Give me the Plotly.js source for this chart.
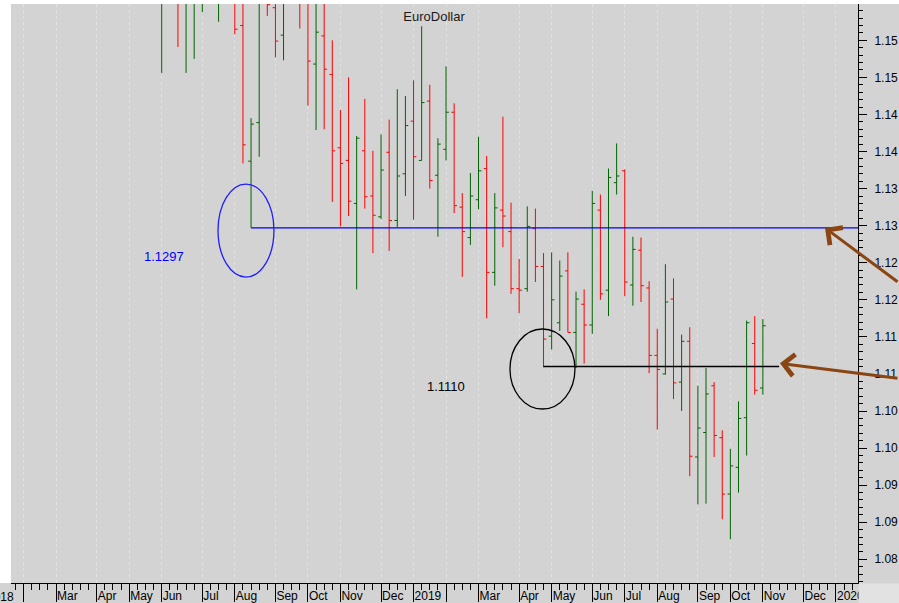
<!DOCTYPE html>
<html>
<head>
<meta charset="utf-8">
<script src="https://cdn.plot.ly/plotly-3.0.1.min.js"></script>
<style>
  html, body { margin: 0; padding: 0; background: #ffffff; overflow: hidden; }
  #chart { width: 899px; height: 603px; }
</style>
</head>
<body>
<div id="chart"></div>
<script>
// Weekly EUR/USD bars, dated by the Friday that ends each week
const barDates = [
  "2018-06-01","2018-06-08","2018-06-15","2018-06-22","2018-06-29",
  "2018-07-06","2018-07-13","2018-07-20","2018-07-27",
  "2018-08-03","2018-08-10","2018-08-17","2018-08-24","2018-08-31",
  "2018-09-07","2018-09-14","2018-09-21","2018-09-28",
  "2018-10-05","2018-10-12","2018-10-19","2018-10-26",
  "2018-11-02","2018-11-09","2018-11-16","2018-11-23","2018-11-30",
  "2018-12-07","2018-12-14","2018-12-21","2018-12-28",
  "2019-01-04","2019-01-11","2019-01-18","2019-01-25",
  "2019-02-01","2019-02-08","2019-02-15","2019-02-22",
  "2019-03-01","2019-03-08","2019-03-15","2019-03-22","2019-03-29",
  "2019-04-05","2019-04-12","2019-04-19","2019-04-26",
  "2019-05-03","2019-05-10","2019-05-17","2019-05-24","2019-05-31",
  "2019-06-07","2019-06-14","2019-06-21","2019-06-28",
  "2019-07-05","2019-07-12","2019-07-19","2019-07-26",
  "2019-08-02","2019-08-09","2019-08-16","2019-08-23","2019-08-30",
  "2019-09-06","2019-09-13","2019-09-20","2019-09-27",
  "2019-10-04","2019-10-11","2019-10-18","2019-10-25",
  "2019-11-01"
];
const openVals = [
  1.1652,1.1658,1.1773,1.1609,1.1655,
  1.1684,1.1747,1.1686,1.1720,
  1.1659,1.1570,1.1387,1.1439,1.1622,
  1.1594,1.1557,1.1623,1.1749,
  1.1603,1.1518,1.1556,1.1504,
  1.1405,1.1388,1.1330,1.1401,1.1340,
  1.1312,1.1399,1.1307,1.1370,
  1.1441,1.1388,1.1468,1.1368,
  1.1403,1.1453,1.1325,1.1284,
  1.1335,1.1377,1.1237,1.1321,1.1292,
  1.1215,1.1215,1.1296,1.1245,
  1.1151,1.1169,1.1239,1.1156,1.1194,
  1.1166,1.1321,1.1213,1.1358,
  1.1374,1.1220,1.1267,1.1216,
  1.1125,1.1100,1.1201,1.1089,1.1144,
  1.0988,1.1021,1.1084,1.1014,
  1.0938,1.0974,1.1041,1.1141,
  1.1081
];
const highVals = [
  1.1718,1.1840,1.1852,1.1675,1.1720,
  1.1750,1.1791,1.1739,1.1750,
  1.1700,1.1610,1.1445,1.1660,1.1734,
  1.1644,1.1720,1.1790,1.1815,
  1.1611,1.1621,1.1621,1.1550,
  1.1456,1.1500,1.1421,1.1471,1.1401,
  1.1423,1.1443,1.1484,1.1475,
  1.1496,1.1569,1.1490,1.1418,
  1.1515,1.1465,1.1344,1.1371,
  1.1420,1.1394,1.1344,1.1447,1.1331,
  1.1255,1.1326,1.1323,1.1263,
  1.1264,1.1253,1.1264,1.1211,1.1214,
  1.1347,1.1342,1.1377,1.1411,
  1.1376,1.1285,1.1284,1.1225,
  1.1161,1.1248,1.1229,1.1153,1.1163,
  1.1084,1.1108,1.1089,1.1024,
  1.0999,1.1063,1.1172,1.1178,
  1.1174
];
const lowVals = [
  1.1506,1.1645,1.1541,1.1506,1.1525,
  1.1588,1.1612,1.1575,1.1625,
  1.1558,1.1384,1.1297,1.1393,1.1583,
  1.1527,1.1523,1.1620,1.1566,
  1.1462,1.1429,1.1430,1.1332,
  1.1299,1.1313,1.1214,1.1323,1.1263,
  1.1309,1.1266,1.1298,1.1340,
  1.1308,1.1388,1.1350,1.1285,
  1.1388,1.1317,1.1231,1.1274,
  1.1322,1.1175,1.1219,1.1271,1.1208,
  1.1182,1.1211,1.1224,1.1109,
  1.1133,1.1158,1.1156,1.1108,1.1114,
  1.1154,1.1200,1.1178,1.1342,
  1.1205,1.1192,1.1197,1.1101,
  1.1025,1.1099,1.1066,1.1050,1.0962,
  1.0924,1.0925,1.0988,1.0904,
  1.0877,1.0940,1.0990,1.1072,
  1.1072
];
const closeVals = [
  1.1658,1.1768,1.1609,1.1655,1.1684,
  1.1747,1.1686,1.1720,1.1659,
  1.1565,1.1409,1.1437,1.1622,1.1598,
  1.1549,1.1623,1.1752,1.1604,
  1.1522,1.1561,1.1511,1.1401,
  1.1384,1.1333,1.1418,1.1339,1.1314,
  1.1375,1.1307,1.1367,1.1435,
  1.1393,1.1466,1.1361,1.1410,
  1.1453,1.1327,1.1292,1.1340,
  1.1374,1.1237,1.1324,1.1313,1.1215,
  1.1213,1.1299,1.1245,1.1147,
  1.1200,1.1232,1.1156,1.1201,1.1166,
  1.1330,1.1208,1.1365,1.1367,
  1.1224,1.1268,1.1219,1.1125,
  1.1106,1.1197,1.1088,1.1144,1.0989,
  1.1027,1.1073,1.1017,1.0938,
  1.0976,1.1040,1.1169,1.1078,
  1.1165
];

// Month tick labels (first weekly bar of each month); Feb is left unlabeled
const monthStarts = [
  "2018-01-05","2018-02-02","2018-03-02","2018-04-06","2018-05-04","2018-06-01",
  "2018-07-06","2018-08-03","2018-09-07","2018-10-05","2018-11-02","2018-12-07",
  "2019-01-04","2019-02-01","2019-03-01","2019-04-05","2019-05-03","2019-06-07",
  "2019-07-05","2019-08-02","2019-09-06","2019-10-04","2019-11-01","2019-12-06",
  "2020-01-03"
];
const monthLabels = [
  "2018","","Mar","Apr","May","Jun","Jul","Aug","Sep","Oct","Nov","Dec",
  "2019","","Mar","Apr","May","Jun","Jul","Aug","Sep","Oct","Nov","Dec",
  "2020"
];

// Price ticks every 0.005, labelled with two decimals (truncated, as in the source)
const priceTicks = [1.085,1.090,1.095,1.100,1.105,1.110,1.115,1.120,1.125,1.130,1.135,1.140,1.145,1.150,1.155];

// Marked support levels
const levelHigh = 1.1297;
const levelLow = 1.1110;
const levelHighDate = "2018-08-17";
const levelLowDate = "2019-04-26";

// ---- build ----
const baseDate = Date.UTC(2018, 0, 5);
function weekIndex(s) {
  const p = s.split("-").map(Number);
  return Math.round((Date.UTC(p[0], p[1] - 1, p[2]) - baseDate) / (7 * 86400000));
}
const xIdx = barDates.map(weekIndex);
const tickIdx = monthStarts.map(weekIndex);

const xRange = [2.45, 106.71];
const yRange = [1.0818, 1.1599];
const FONT = "Liberation Sans, Arial, sans-serif";

const trace = {
  type: "ohlc",
  x: xIdx,
  open: openVals, high: highVals, low: lowVals, close: closeVals,
  increasing: { line: { color: "#006400", width: 1 } },
  decreasing: { line: { color: "#ff0000", width: 1 } },
  tickwidth: 0.35,
  hoverinfo: "skip",
  showlegend: false
};

const visTicks = [], visText = [];
tickIdx.forEach((t, k) => { if (t >= xRange[0] && t <= xRange[1]) { visTicks.push(t); visText.push(monthLabels[k]); } });
const fracOf = v => (v - xRange[0]) / (xRange[1] - xRange[0]);
const priceText = priceTicks.map(v => (Math.floor(v * 100 + 1e-6) / 100).toFixed(2));

const hiX = weekIndex(levelHighDate);
const loX = weekIndex(levelLowDate);

const layout = {
  width: 899, height: 603,
  margin: { l: 11, r: 41, t: 4, b: 20, pad: 0 },
  paper_bgcolor: "#d3d3d3",
  plot_bgcolor: "#d3d3d3",
  font: { family: FONT, size: 12, color: "#000" },
  title: {
    text: "EuroDollar", x: 0.4995, xref: "paper", xanchor: "center",
    y: 1 - 16 / 603, yref: "container", yanchor: "middle",
    font: { family: FONT, size: 13, color: "#1a1a1a" }
  },
  showlegend: false,
  hovermode: false,
  dragmode: false,
  xaxis: {
    type: "linear",
    range: xRange,
    rangeslider: { visible: false },
    tickmode: "array",
    tickvals: visTicks,
    ticktext: visText,
    tickangle: 0,
    ticks: "outside", ticklen: 18, tickwidth: 1, tickcolor: "#000",
    ticklabelposition: "outside right",
    ticklabelstandoff: 2,
    tickfont: { family: FONT, size: 12, color: "#000" },
    showline: true, linecolor: "#000", linewidth: 1,
    showgrid: true, gridcolor: "#e2e2e2", griddash: "dot", gridwidth: 1,
    zeroline: false,
    minor: { tickmode: "linear", tick0: 0, dtick: 1, ticks: "outside", ticklen: 6, tickcolor: "#000", tickwidth: 1, showgrid: false },
    fixedrange: true
  },
  yaxis: {
    side: "right",
    range: yRange,
    tickmode: "array", tickvals: priceTicks, ticktext: priceText,
    ticks: "outside", ticklen: 8, tickwidth: 1, tickcolor: "#000",
    ticklabelstandoff: 5,
    tickfont: { family: FONT, size: 12, color: "#000" },
    showline: true, linecolor: "#000", linewidth: 1,
    showgrid: false, zeroline: false,
    minor: { tickmode: "linear", tick0: 1.08, dtick: 0.001, ticks: "outside", ticklen: 4, tickcolor: "#000", tickwidth: 1, showgrid: false },
    fixedrange: true
  },
  shapes: [
    { type: "rect", xref: "paper", yref: "paper", x0: -0.2, x1: 1.2, y0: 1, y1: 1.2, fillcolor: "#ffffff", line: { width: 0 }, layer: "below" },
    { type: "rect", xref: "paper", yref: "paper", x0: -0.2, x1: 0, y0: 0, y1: 1.2, fillcolor: "#ffffff", line: { width: 0 }, layer: "below" },
    { type: "rect", xref: "paper", yref: "paper", x0: 1.0008, x1: 1.2, y0: -0.2, y1: -0.0009, fillcolor: "#e2e2e2", line: { width: 0 }, layer: "above" },
    { type: "line", xref: "x", yref: "y", x0: hiX, x1: xRange[1], y0: levelHigh, y1: levelHigh, line: { color: "#0000ff", width: 1.3 } },
    { type: "circle", xref: "x", yref: "y", x0: 27.93, x1: 34.82, y0: 1.12307, y1: 1.13561, line: { color: "#1f1fff", width: 1.3 } },
    { type: "line", xref: "x", yref: "y", x0: loX, x1: 97.0, y0: levelLow, y1: levelLow, line: { color: "#000000", width: 1.3 } },
    { type: "circle", xref: "x", yref: "y", x0: 63.87, x1: 71.87, y0: 1.10527, y1: 1.11606, line: { color: "#000000", width: 1.3 } }
  ],
  annotations: [
    { xref: "paper", yref: "paper", x: fracOf(tickIdx[0]), y: 0, xanchor: "left", yanchor: "top",
      yshift: -5, xshift: -6, text: monthLabels[0], showarrow: false, font: { family: FONT, size: 12, color: "#000" } },
    { xref: "x", yref: "y", x: 21.28, y: 1.1259, text: levelHigh.toFixed(4), showarrow: false,
      font: { family: FONT, size: 13, color: "#0000ff" } },
    { xref: "x", yref: "y", x: 56.0, y: 1.10837, text: levelLow.toFixed(4), showarrow: false,
      font: { family: FONT, size: 13, color: "#000000" } },
    { xref: "x", yref: "y", x: 102.65, y: 1.1297, text: "", showarrow: true,
      axref: "pixel", ayref: "pixel", ax: 120, ay: 55,
      arrowhead: 4, arrowsize: 1.4, arrowwidth: 3, arrowcolor: "#8b4513", standoff: 0 },
    { xref: "x", yref: "y", x: 97.1, y: 1.11143, text: "", showarrow: true,
      axref: "pixel", ayref: "pixel", ax: 160, ay: 15,
      arrowhead: 4, arrowsize: 1.4, arrowwidth: 3, arrowcolor: "#8b4513", standoff: 0 }
  ]
};

Plotly.newPlot("chart", [trace], layout, { staticPlot: true, displayModeBar: false });
</script>
</body>
</html>
